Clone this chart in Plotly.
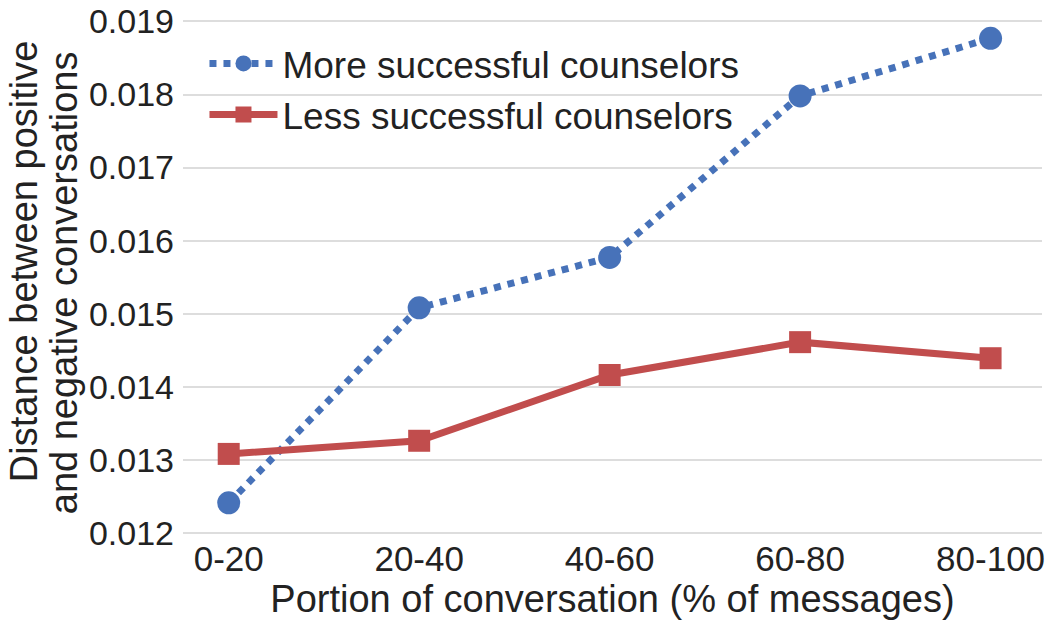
import plotly.graph_objects as go

categories = ["0-20", "20-40", "40-60", "60-80", "80-100"]
more_successful = [0.01241, 0.01508, 0.01577, 0.01798, 0.01877]
less_successful = [0.01308, 0.01326, 0.01416, 0.01461, 0.01439]
y_ticks = [0.012, 0.013, 0.014, 0.015, 0.016, 0.017, 0.018, 0.019]
y_title_lines = ["Distance between positive", "and negative conversations"]
x_title = "Portion of conversation (% of messages)"

FONT = "Liberation Sans, Arial, Helvetica, sans-serif"
BLUE = "#4772b9"
RED = "#c14d4d"

fig = go.Figure()
fig.add_trace(go.Scatter(
    x=categories, y=more_successful, name="More successful counselors",
    mode="lines+markers",
    line=dict(color=BLUE, width=7, dash="dot"),
    marker=dict(symbol="circle", size=23, color=BLUE),
))
fig.add_trace(go.Scatter(
    x=categories, y=less_successful, name="Less successful counselors",
    mode="lines+markers",
    line=dict(color=RED, width=7),
    marker=dict(symbol="square", size=22, color=RED),
))

fig.update_layout(
    width=1050, height=626,
    margin=dict(l=183, r=8, t=20, b=91, autoexpand=False),
    paper_bgcolor="white", plot_bgcolor="white",
    font=dict(family=FONT, size=34, color="#222222"),
    legend=dict(x=0.025, y=0.975, xanchor="left", yanchor="top",
                bgcolor="rgba(0,0,0,0)", itemwidth=68,
                font=dict(size=37), tracegroupgap=0),
    showlegend=True,
)
fig.update_xaxes(
    type="category", range=[-0.24, 4.27], automargin=False,
    showgrid=False, zeroline=False, showline=False,
    ticks="", tickfont=dict(size=35),
    title=dict(text=x_title, font=dict(size=38), standoff=2),
)
fig.update_yaxes(
    range=[0.01197, 0.01902], tickvals=y_ticks, tickformat=".3f", automargin=False,
    showgrid=True, gridcolor="#dddddd", gridwidth=2,
    zeroline=False, showline=False, ticks="", ticklabelstandoff=8,
    ticklabeloverflow="allow",
    tickfont=dict(size=34),
)
# two-line y-axis title with tight line spacing
for txt, xpos, ypos in zip(y_title_lines, [-0.185, -0.139], [0.53, 0.49]):
    fig.add_annotation(text=txt, xref="paper", yref="paper", x=xpos, y=ypos,
                       xanchor="center", yanchor="middle", textangle=-90,
                       showarrow=False, font=dict(size=38, family=FONT, color="#222222"))

fig.write_html("out.html", config={"displayModeBar": False},
               post_script="document.body.style.margin='0';")
